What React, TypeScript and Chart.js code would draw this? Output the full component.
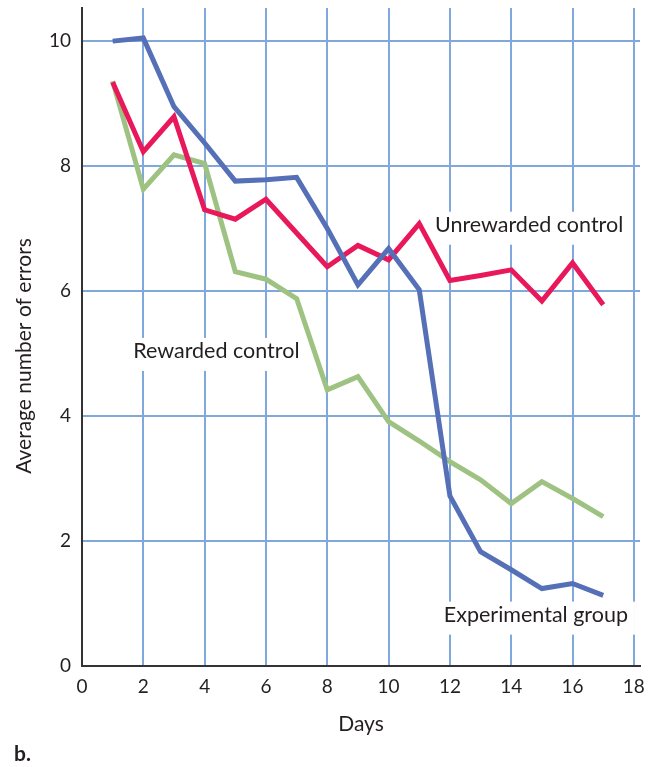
import React, { useEffect, useRef } from "react";
import { Chart, registerables } from "chart.js";

Chart.register(...registerables);

const days = [1, 2, 3, 4, 5, 6, 7, 8, 9, 10, 11, 12, 13, 14, 15, 16, 17];
const experimental = [10.0, 10.05, 8.95, 8.37, 7.76, 7.78, 7.82, 7.0, 6.1, 6.68, 6.02, 2.72, 1.83, 1.54, 1.24, 1.32, 1.13];
const unrewarded = [9.34, 8.23, 8.79, 7.3, 7.15, 7.47, 6.93, 6.39, 6.73, 6.5, 7.08, 6.17, 6.25, 6.34, 5.84, 6.45, 5.78];
const rewarded = [9.36, 7.63, 8.18, 8.04, 6.31, 6.19, 5.88, 4.42, 4.63, 3.91, 3.6, 3.27, 2.98, 2.6, 2.95, 2.68, 2.39];

const xTicks = [0, 2, 4, 6, 8, 10, 12, 14, 16, 18];
const yTicks = [0, 2, 4, 6, 8, 10];

const labels = [
  { text: "Unrewarded control", x: 11.51, y: 6.95 },
  { text: "Rewarded control", x: 1.67, y: 4.93 },
  { text: "Experimental group", x: 11.8, y: 0.71 },
];

const FONT = "Lato, 'Open Sans', sans-serif";
const TEXT = "#231f20";
const GRID = "#80a8dc";
const LABEL_SIZE = 21.5;

const annotationPlugin = {
  id: "annotations",
  beforeDatasetsDraw(chart: any) {
    const ctx = chart.ctx;
    const xs = chart.scales.x;
    const ys = chart.scales.y;
    ctx.save();
    ctx.font = `${LABEL_SIZE}px ${FONT}`;
    for (const l of labels) {
      const px = xs.getPixelForValue(l.x);
      const py = ys.getPixelForValue(l.y);
      const w = ctx.measureText(l.text).width;
      ctx.fillStyle = "#ffffff";
      ctx.fillRect(px - 7, py - 20, w + 14, 33);
    }
    ctx.restore();
  },
  afterDraw(chart: any) {
    const ctx = chart.ctx;
    const xs = chart.scales.x;
    const ys = chart.scales.y;
    ctx.save();
    ctx.fillStyle = TEXT;
    ctx.font = `${LABEL_SIZE}px ${FONT}`;
    ctx.textAlign = "left";
    ctx.textBaseline = "alphabetic";
    for (const l of labels) {
      ctx.fillText(l.text, xs.getPixelForValue(l.x), ys.getPixelForValue(l.y));
    }
    // y axis title
    ctx.save();
    ctx.translate(24, 356);
    ctx.rotate(-Math.PI / 2);
    ctx.textAlign = "center";
    ctx.textBaseline = "middle";
    ctx.font = `21px ${FONT}`;
    ctx.fillText("Average number of errors", 0, 0);
    ctx.restore();
    // x axis title
    ctx.textAlign = "center";
    ctx.textBaseline = "middle";
    ctx.font = `21px ${FONT}`;
    ctx.fillText("Days", (chart.chartArea.left + chart.chartArea.right) / 2, 724);
    // panel letter
    ctx.textAlign = "left";
    ctx.textBaseline = "alphabetic";
    ctx.font = `bold 21px ${FONT}`;
    ctx.fillText("b.", 14, 761);
    ctx.restore();
  },
};

export default function App() {
  const ref = useRef<HTMLCanvasElement>(null);
  useEffect(() => {
    document.body.style.margin = "0";
    const canvas = ref.current!;
    const chart = new Chart(canvas, {
      type: "line",
      data: {
        labels: days,
        datasets: [
          { label: "Experimental group", data: days.map((d, i) => ({ x: d, y: experimental[i] })), borderColor: "#5670b8", borderWidth: 5, pointRadius: 0, tension: 0, borderCapStyle: "butt", borderJoinStyle: "miter" },
          { label: "Unrewarded control", data: days.map((d, i) => ({ x: d, y: unrewarded[i] })), borderColor: "#e8185a", borderWidth: 5, pointRadius: 0, tension: 0, borderCapStyle: "butt", borderJoinStyle: "miter" },
          { label: "Rewarded control", data: days.map((d, i) => ({ x: d, y: rewarded[i] })), borderColor: "#9ec282", borderWidth: 5, pointRadius: 0, tension: 0, borderCapStyle: "butt", borderJoinStyle: "miter" },
        ],
      },
      options: {
        animation: false,
        responsive: false,
        layout: { padding: { top: 8, right: 11, left: 0, bottom: 0 } },
        plugins: { legend: { display: false }, tooltip: { enabled: false } },
        scales: {
          x: {
            type: "linear",
            min: 0,
            max: 18.2,
            afterBuildTicks: (axis: any) => {
              axis.ticks = xTicks.map((v) => ({ value: v }));
            },
            afterFit: (scale: any) => {
              scale.height = 101;
              scale.paddingLeft = 0;
              scale.paddingRight = 0;
              scale.paddingTop = 0;
              scale.paddingBottom = 0;
            },
            grid: { color: GRID, lineWidth: 2, drawTicks: false },
            border: { display: true, color: "#333333", width: 2 },
            ticks: { color: TEXT, font: { family: FONT, size: 19 }, padding: 9, maxRotation: 0 },
          },
          y: {
            type: "linear",
            min: 0,
            max: 10.53,
            afterBuildTicks: (axis: any) => {
              axis.ticks = yTicks.map((v) => ({ value: v }));
            },
            afterFit: (scale: any) => {
              scale.width = 82;
              scale.paddingLeft = 0;
              scale.paddingRight = 0;
              scale.paddingTop = 0;
              scale.paddingBottom = 0;
            },
            grid: { color: GRID, lineWidth: 2, drawTicks: false },
            border: { display: true, color: "#333333", width: 2 },
            ticks: { color: TEXT, font: { family: FONT, size: 19 }, padding: 11 },
          },
        },
      },
      plugins: [annotationPlugin],
    } as any);
    return () => chart.destroy();
  }, []);
  return <canvas ref={ref} width={651} height={767} style={{ display: "block" }} />;
}
